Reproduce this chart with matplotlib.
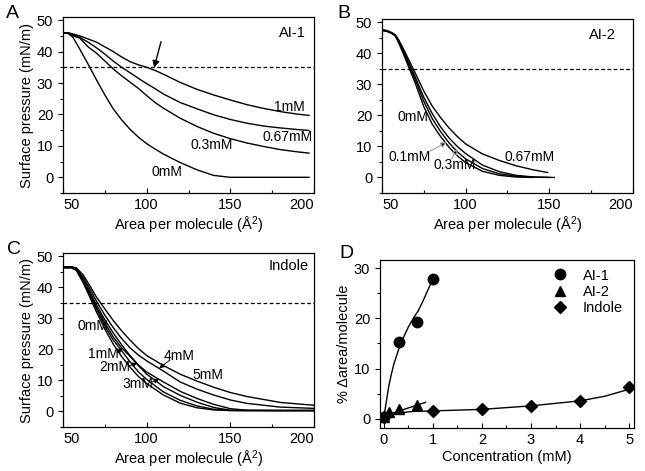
import matplotlib
matplotlib.use("Agg")
import matplotlib.pyplot as plt
from matplotlib.ticker import MultipleLocator

plt.rcParams['font.family'] = ['Liberation Sans', 'DejaVu Sans']
plt.rcParams['font.size'] = 10
plt.rcParams['mathtext.default'] = 'regular'

# ---- panel A : AI-1 isotherms ----
a_x = [50, 53, 56, 60, 65, 70, 75, 80, 85, 90, 95, 100, 105, 110, 120, 130, 140, 150, 160, 170, 180, 190, 197]
a_0mM = [46.0, 45.8, 44.5, 40.8, 36.0, 31.0, 26.2, 21.8, 18.3, 15.3, 12.8, 10.7, 9.0, 7.4, 4.7, 2.4, 0.6, 0.0, 0.0, 0.0, 0.0, 0.0, 0.0]
a_03mM = [46.0, 45.8, 45.0, 44.3, 41.5, 39.5, 37.0, 34.5, 32.3, 30.3, 28.3, 26.0, 23.8, 22.0, 18.8, 16.2, 14.0, 12.3, 10.9, 9.8, 8.8, 8.1, 7.7]
a_067mM = [46.0, 45.9, 45.3, 44.5, 43.0, 41.2, 39.2, 37.0, 35.0, 33.3, 31.5, 29.8, 28.2, 26.5, 23.8, 21.8, 19.9, 18.4, 17.2, 16.3, 15.7, 15.2, 14.9]
a_1mM = [46.0, 46.0, 45.6, 45.0, 44.0, 43.0, 41.5, 40.0, 38.3, 36.8, 35.8, 35.0, 34.0, 32.8, 30.2, 28.0, 26.2, 24.6, 23.1, 21.9, 20.9, 20.1, 19.7]
a_labels = ["0mM", "0.3mM", "0.67mM", "1mM"]
a_label_xy = [(112, 1.6), (139, 10.2), (184, 12.8), (185, 22.4)]

# ---- panel B : AI-2 isotherms ----
b_x0 = [50, 53, 56, 58, 60, 63, 66, 70, 75, 80, 85, 90, 95, 100, 110, 120, 130, 140]
b_0mM = [47.3, 47.0, 46.3, 45.5, 43.3, 39.5, 35.5, 30.2, 22.8, 17.2, 13.2, 9.8, 7.0, 4.8, 2.0, 0.7, 0.15, 0.0]
b_x1 = [50, 53, 56, 58, 60, 63, 66, 70, 75, 80, 85, 90, 95, 100, 110, 120, 130, 140, 150]
b_01mM = [47.4, 47.1, 46.4, 45.6, 43.6, 40.0, 36.3, 31.3, 24.5, 19.0, 14.8, 11.2, 8.3, 6.0, 2.9, 1.2, 0.4, 0.1, 0.0]
b_x3 = [50, 53, 56, 58, 60, 63, 66, 70, 75, 80, 85, 90, 95, 100, 110, 120, 130, 140, 150, 153]
b_03mM = [47.5, 47.2, 46.5, 45.7, 43.9, 40.5, 37.0, 32.2, 25.8, 20.6, 16.3, 12.8, 10.0, 7.7, 4.0, 1.9, 0.7, 0.2, 0.05, 0.0]
b_x6 = [50, 53, 56, 58, 60, 63, 66, 70, 75, 80, 85, 90, 95, 100, 110, 120, 130, 140, 149]
b_067mM = [47.6, 47.3, 46.6, 45.9, 44.3, 41.2, 37.9, 33.5, 27.8, 23.0, 19.3, 16.0, 13.2, 10.8, 7.6, 5.5, 3.8, 2.5, 1.6]

# ---- panel C : indole isotherms ----
c_x = [51, 55, 58, 62, 66, 70, 75, 80, 85, 90, 95, 100, 110, 120, 130, 140, 150, 160, 180, 200]
c_0mM = [46.2, 46.2, 45.4, 41.5, 36.8, 32.0, 26.5, 21.7, 17.7, 14.3, 11.3, 9.0, 5.3, 2.7, 1.2, 0.5, 0.3, 0.3, 0.3, 0.3]
c_1mM = [46.3, 46.3, 45.6, 42.0, 37.5, 33.0, 27.5, 23.0, 19.6, 16.0, 12.8, 10.3, 6.3, 3.6, 1.8, 0.7, 0.3, 0.3, 0.3, 0.3]
c_2mM = [46.4, 46.4, 45.7, 42.2, 38.0, 33.5, 28.5, 24.0, 20.5, 17.8, 14.8, 12.0, 8.0, 5.2, 3.0, 1.3, 0.4, 0.3, 0.3, 0.3]
c_3mM = [46.4, 46.4, 45.8, 42.5, 38.5, 34.3, 29.5, 25.3, 21.5, 18.0, 15.0, 12.7, 9.5, 6.5, 4.2, 2.3, 0.9, 0.4, 0.3, 0.3]
c_4mM = [46.6, 46.6, 46.0, 43.2, 39.5, 35.5, 31.0, 27.0, 23.5, 20.5, 18.2, 16.3, 13.0, 9.5, 7.2, 5.3, 3.7, 2.6, 1.4, 1.0]
c_5mM = [46.6, 46.6, 46.2, 44.0, 40.5, 36.8, 33.0, 29.3, 26.0, 23.0, 20.3, 18.0, 14.8, 12.0, 9.8, 7.8, 6.1, 4.8, 2.9, 2.0]

# ---- panel D : % change in area per molecule ----
ai1_conc = [0, 0.3, 0.67, 1.0]
ai1_pct = [0.3, 15.2, 19.3, 27.8]
ai1_fit_x = [0, 0.05, 0.1, 0.15, 0.2, 0.3, 0.4, 0.5, 0.6, 0.7, 0.8, 0.9, 1.0]
ai1_fit_y = [0.3, 3.5, 6.5, 8.8, 10.8, 13.8, 16.2, 18.3, 20.0, 21.5, 23.5, 25.7, 27.8]
ai2_conc = [0, 0.1, 0.3, 0.67]
ai2_pct = [0.4, 1.3, 1.9, 2.7]
ai2_fit_x = [0, 0.85]
ai2_fit_y = [0.6, 3.3]
ind_conc = [0, 1, 2, 3, 4, 5]
ind_pct = [0.4, 1.5, 1.9, 2.6, 3.6, 6.3]
ind_fit_x = [0, 0.3, 0.6, 1, 2, 3, 4, 4.5, 5]
ind_fit_y = [0.4, 1.2, 1.5, 1.6, 1.9, 2.6, 3.6, 4.5, 5.9]

fig = plt.figure(figsize=(6.45, 4.71), dpi=100)
axA = fig.add_axes([0.0977, 0.5902, 0.3891, 0.3737])
axB = fig.add_axes([0.5922, 0.5902, 0.3891, 0.3694])
axC = fig.add_axes([0.0977, 0.0934, 0.3891, 0.3694])
axD = fig.add_axes([0.5891, 0.0913, 0.3938, 0.3567])


def style_axis(ax):
    ax.tick_params(axis='x', which='both', direction='in', length=3.5, width=0.8)
    ax.tick_params(axis='x', which='minor', length=2.5)
    ax.tick_params(axis='y', which='both', direction='out', length=3.5, width=0.8)
    ax.tick_params(axis='y', which='minor', length=2.5)
    ax.tick_params(labelsize=10.5)
    for s in ax.spines.values():
        s.set_linewidth(0.9)


def isotherm_axis(ax, ylabel=True):
    ax.set_xlim(50, 200)
    ax.set_ylim(-5, 51)
    ax.set_xticks([50, 100, 150, 200])
    ax.xaxis.set_minor_locator(MultipleLocator(25))
    ax.set_yticks([0, 10, 20, 30, 40, 50])
    ax.yaxis.set_minor_locator(MultipleLocator(5))
    style_axis(ax)
    labs = ax.get_xticklabels()
    labs[0].set_horizontalalignment('left')
    labs[-1].set_horizontalalignment('right')
    ax.axhline(35, color='black', ls=(0, (3, 2)), lw=0.9)
    ax.set_xlabel("Area per molecule (Å$^2$)", fontsize=10.5, labelpad=2)
    if ylabel:
        ax.set_ylabel("Surface pressure (mN/m)", fontsize=10.5, labelpad=2)


lw = 1.0
for ys in [a_0mM, a_03mM, a_067mM, a_1mM]:
    axA.plot(a_x, ys, color='black', lw=lw)
for lab, (x, y) in zip(a_labels, a_label_xy):
    axA.text(x, y, lab, ha='center', va='center', fontsize=10)
axA.text(187, 46, "AI-1", ha='center', va='center', fontsize=10.5)
axA.annotate("", xy=(104, 34.0), xytext=(109, 44),
             arrowprops=dict(arrowstyle='-|>', color='black', lw=1.0, mutation_scale=10))
isotherm_axis(axA)

axB.plot(b_x0, b_0mM, color='black', lw=lw)
axB.plot(b_x1, b_01mM, color='black', lw=lw)
axB.plot(b_x3, b_03mM, color='black', lw=lw)
axB.plot(b_x6, b_067mM, color='black', lw=lw)
axB.text(182, 46, "AI-2", ha='center', va='center', fontsize=10.5)
axB.text(68.5, 19.4, "0mM", ha='center', va='center', fontsize=10)
axB.text(66.7, 6.7, "0.1mM", ha='center', va='center', fontsize=10)
axB.text(93.6, 4.1, "0.3mM", ha='center', va='center', fontsize=10)
axB.text(138.5, 6.7, "0.67mM", ha='center', va='center', fontsize=10)
for tail, head in [((78.7, 8.5), (88.6, 11.3)), ((91.6, 6.0), (95.2, 9.2))]:
    axB.annotate("", xy=head, xytext=tail,
                 arrowprops=dict(arrowstyle='-|>', fc='black', ec='0.6', lw=0.8,
                                 mutation_scale=8, shrinkA=0, shrinkB=0))
isotherm_axis(axB, ylabel=False)

for ys in [c_0mM, c_1mM, c_2mM, c_3mM, c_4mM, c_5mM]:
    axC.plot(c_x, ys, color='black', lw=lw)
axC.text(185, 46.8, "Indole", ha='center', va='center', fontsize=10.5)
c_text = [("0mM", 68, 27.4), ("1mM", 74, 18.6), ("2mM", 81, 14.3), ("3mM", 94.8, 8.9),
          ("4mM", 119.6, 17.7), ("5mM", 136.5, 11.6)]
for lab, x, y in c_text:
    axC.text(x, y, lab, ha='center', va='center', fontsize=10)
c_arrows = [((82.3, 19.0), (85.5, 20.4)), ((88.9, 14.5), (94.4, 15.6)),
            ((102.8, 9.4), (107.5, 10.4)), ((113.7, 16.5), (107.5, 13.9))]
for tail, head in c_arrows:
    axC.annotate("", xy=head, xytext=tail,
                 arrowprops=dict(arrowstyle='-|>', color='black', lw=0.7,
                                 mutation_scale=7, shrinkA=0, shrinkB=0))
isotherm_axis(axC)

# panel D
axD.plot(ai1_fit_x, ai1_fit_y, color='black', lw=1.0)
axD.plot(ai2_fit_x, ai2_fit_y, color='black', lw=1.0)
axD.plot(ind_fit_x, ind_fit_y, color='black', lw=1.0)
axD.plot(ai1_conc, ai1_pct, 'o', color='black', ms=7.5, label='AI-1')
axD.plot(ai2_conc, ai2_pct, '^', color='black', ms=7.5, label='AI-2')
axD.plot(ind_conc, ind_pct, 'D', color='black', ms=6.5, label='Indole')
axD.set_xlim(-0.08, 5.1)
axD.set_ylim(-1.8, 31.6)
axD.set_xticks([0, 1, 2, 3, 4, 5])
axD.xaxis.set_minor_locator(MultipleLocator(0.5))
axD.set_yticks([0, 10, 20, 30])
axD.yaxis.set_minor_locator(MultipleLocator(5))
style_axis(axD)
axD.set_xlabel("Concentration (mM)", fontsize=10.5, labelpad=2)
axD.set_ylabel("% Δarea/molecule", fontsize=10.5, labelpad=2)
axD.legend(loc='upper right', frameon=False, fontsize=10.5, handlelength=1.2,
           handletextpad=1.0, borderaxespad=0.3, labelspacing=0.15,
           bbox_to_anchor=(0.997, 1.01))

for lab, x, y in [("A", 12, 13.5), ("B", 344, 14), ("C", 14, 249), ("D", 346, 253)]:
    fig.text(x / 645, 1 - y / 471, lab, ha='center', va='center', fontsize=14)

fig.savefig("out.png", dpi=100)
